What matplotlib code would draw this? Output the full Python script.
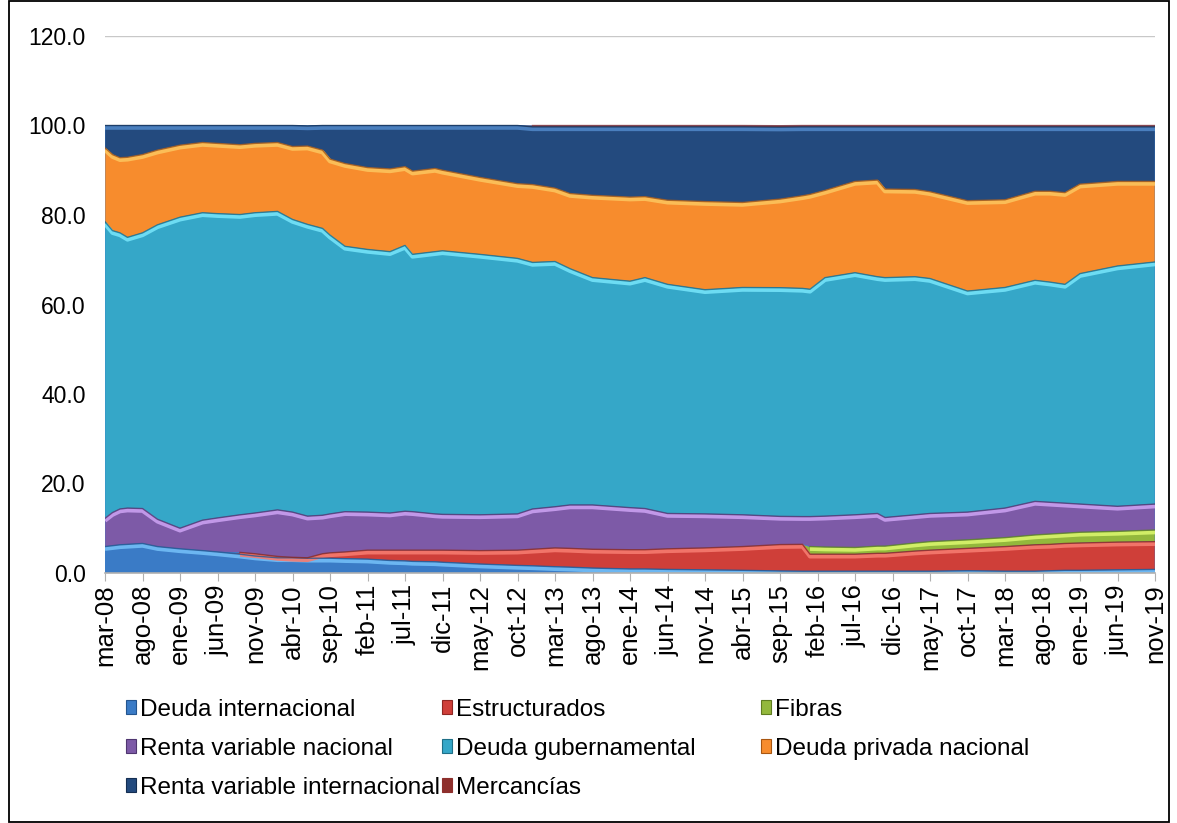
import matplotlib

matplotlib.use("Agg")
import matplotlib.pyplot as plt
import matplotlib.transforms as mtransforms
from matplotlib.patches import Patch, Rectangle
import numpy as np

plt.rcParams["font.family"] = ["Liberation Sans", "DejaVu Sans"]

sample_month = [0, 1, 2, 3, 5, 7, 10, 13, 15, 18,
                20, 23, 25, 27, 29, 30, 32, 35, 38, 40,
                41, 44, 45, 50, 55, 57, 60, 62, 65, 70,
                72, 75, 80, 85, 90, 93, 94, 96, 100, 103,
                104, 108, 110, 115, 120, 124, 126, 128, 130, 135,
                140]

deuda_internacional = [5.9, 6.1, 6.3, 6.4, 6.6, 5.9, 5.4, 5.0, 4.7, 4.2,
                       3.8, 3.4, 3.4, 3.3, 3.3, 3.3, 3.2, 3.1, 2.8, 2.7,
                       2.6, 2.5, 2.4, 2.0, 1.7, 1.6, 1.4, 1.3, 1.1, 0.9,
                       0.9, 0.8, 0.7, 0.6, 0.45, 0.4, 0.4, 0.4, 0.4, 0.4,
                       0.4, 0.4, 0.4, 0.5, 0.4, 0.4, 0.5, 0.6, 0.6, 0.7,
                       0.8]
estructurados = [0, 0, 0, 0, 0, 0, 0, 0, 0, 0.4,
                 0.5, 0.3, 0.1, 0.1, 1.0, 1.2, 1.5, 2.0, 2.3, 2.4,
                 2.5, 2.6, 2.7, 3.0, 3.4, 3.7, 4.2, 4.2, 4.2, 4.3,
                 4.3, 4.6, 4.9, 5.3, 5.9, 6.0, 3.8, 3.8, 3.8, 4.0,
                 4.0, 4.5, 4.7, 5.0, 5.5, 5.9, 5.9, 6.0, 6.1, 6.2,
                 6.2]
fibras = [0, 0, 0, 0, 0, 0, 0, 0, 0, 0,
          0, 0, 0, 0, 0, 0, 0, 0, 0, 0,
          0, 0, 0, 0, 0, 0, 0, 0, 0, 0,
          0, 0, 0, 0, 0, 0, 1.7, 1.6, 1.5, 1.6,
          1.6, 1.8, 1.9, 1.9, 2.0, 2.2, 2.3, 2.3, 2.4, 2.4,
          2.6]
renta_var_nacional = [6.3, 7.4, 8.0, 8.1, 7.8, 6.1, 4.6, 6.8, 7.6, 8.4,
                      9.1, 10.4, 10.1, 9.3, 8.6, 8.7, 9.0, 8.5, 8.3, 8.7,
                      8.6, 8.1, 8.0, 8.0, 8.1, 9.0, 9.2, 9.7, 9.9, 9.4,
                      9.2, 7.9, 7.6, 7.1, 6.3, 6.2, 6.7, 6.9, 7.3, 7.3,
                      6.4, 6.3, 6.3, 6.2, 6.6, 7.5, 7.1, 6.7, 6.3, 5.6,
                      5.8]
deuda_gubernamental = [66.3, 63.0, 61.7, 60.5, 61.6, 65.8, 69.5, 68.7, 68.0, 67.1,
                       67.1, 66.7, 65.4, 65.2, 64.1, 62.3, 59.3, 58.7, 58.4, 59.4,
                       57.5, 58.6, 58.9, 58.2, 57.1, 55.1, 54.8, 52.8, 50.8, 50.6,
                       51.6, 51.2, 50.1, 50.8, 51.1, 51.0, 50.8, 53.3, 54.1, 52.9,
                       53.6, 53.2, 52.5, 49.4, 49.3, 49.4, 49.2, 48.9, 51.5, 53.7,
                       54.1]
deuda_privada = [16.5, 17.0, 16.8, 17.9, 17.5, 16.7, 16.1, 15.7, 15.7, 15.6,
                 15.5, 15.4, 16.3, 17.5, 17.5, 17.0, 18.5, 18.3, 18.5, 17.6,
                 18.6, 18.6, 18.0, 17.2, 16.7, 17.4, 16.4, 16.8, 18.4, 18.8,
                 18.1, 18.8, 19.7, 19.0, 19.8, 20.7, 21.2, 19.5, 20.4, 21.6,
                 19.8, 19.5, 19.4, 20.2, 19.6, 19.9, 20.3, 20.5, 20.0, 18.9,
                 18.0]
renta_var_internacional = [5.0, 6.5, 7.2, 7.1, 6.5, 5.5, 4.4, 3.8, 4.0, 4.3,
                           4.0, 3.8, 4.7, 4.5, 5.5, 7.5, 8.5, 9.4, 9.7, 9.2,
                           10.2, 9.6, 10.0, 11.6, 13.0, 12.9, 13.7, 14.9, 15.3, 15.7,
                           15.6, 16.4, 16.7, 16.9, 16.1, 15.4, 15.1, 14.2, 12.2, 11.9,
                           13.9, 14.0, 14.5, 16.5, 16.3, 14.4, 14.4, 14.7, 12.8, 12.2,
                           12.2]
mercancias = [0, 0, 0, 0, 0, 0, 0, 0, 0, 0,
              0, 0, 0, 0, 0, 0, 0, 0, 0, 0,
              0, 0, 0, 0, 0, 0.3, 0.3, 0.3, 0.3, 0.3,
              0.3, 0.3, 0.3, 0.3, 0.3, 0.3, 0.3, 0.3, 0.3, 0.3,
              0.3, 0.3, 0.3, 0.3, 0.3, 0.3, 0.3, 0.3, 0.3, 0.3,
              0.3]

tick_labels = ["mar-08", "ago-08", "ene-09", "jun-09", "nov-09", "abr-10", "sep-10",
               "feb-11", "jul-11", "dic-11", "may-12", "oct-12", "mar-13", "ago-13",
               "ene-14", "jun-14", "nov-14", "abr-15", "sep-15", "feb-16", "jul-16",
               "dic-16", "may-17", "oct-17", "mar-18", "ago-18", "ene-19", "jun-19",
               "nov-19"]

names = ["Deuda internacional", "Estructurados", "Fibras", "Renta variable nacional",
         "Deuda gubernamental", "Deuda privada nacional", "Renta variable internacional",
         "Mercancías"]
series = [deuda_internacional, estructurados, fibras, renta_var_nacional,
          deuda_gubernamental, deuda_privada, renta_var_internacional, mercancias]
face = ["#3a7bc6", "#cf3f39", "#93b83c", "#7d5aa7", "#35a7c8", "#f78c2d", "#234a7e", "#8e2f2c"]
light = ["#72bdf6", "#f57a6f", "#d8f56c", "#c9a0f0", "#74e2f8", "#fcc35c", "#4f86c6", "#a8403d"]
edge = ["#24558f", "#8f2622", "#5f7d20", "#4f3670", "#1f6f87", "#a85610", "#142e52", "#8e2f2c"]

x = np.array(sample_month, dtype=float)
vals = np.array(series, dtype=float)
tops = np.cumsum(vals, axis=0)

fig = plt.figure(figsize=(11.77, 8.23), dpi=100)
ax = fig.add_axes([105 / 1177, 1 - 573 / 823, 1050 / 1177, 537 / 823])

ax.stackplot(x, *vals, colors=face, linewidth=0.4, edgecolors=face, zorder=2)

# bevel look: dark seam on each boundary and a light band just below it
down = mtransforms.offset_copy(ax.transData, fig=fig, x=0, y=-2.2, units="dots")
for k in range(len(series) - 1):
    top = np.where(vals[k] > 0, tops[k], np.nan)
    ax.plot(x, top, color=light[k], lw=3.0, transform=down, zorder=3,
            solid_capstyle="butt", alpha=0.9)
    ax.plot(x, top, color=edge[k], lw=1.0, zorder=4, alpha=0.8)
merc_top = np.where(vals[-1] > 0, tops[-1], np.nan)
ax.plot(x, merc_top, color=face[-1], lw=1.0, zorder=4, alpha=0.7)

ax.set_xlim(0, 140)
ax.set_ylim(0, 120)
ax.set_yticks(np.arange(0, 121, 20))
ax.yaxis.set_major_formatter(matplotlib.ticker.FormatStrFormatter("%.1f"))
ax.set_xticks(np.arange(0, 141, 5))
ax.set_xticklabels(tick_labels, rotation=90)
ax.tick_params(axis="y", length=0, pad=14, labelsize=16.5)
ax.tick_params(axis="x", length=6, color="#b0b0b0", pad=2, labelsize=18.5, direction="out")
ax.grid(axis="y", color="#c8c8c8", lw=1.0, zorder=0)
ax.set_axisbelow(True)
for side in ["top", "right", "left"]:
    ax.spines[side].set_visible(False)
ax.spines["bottom"].set_color("#b0b0b0")
ax.spines["bottom"].set_linewidth(1.2)
ax.spines["bottom"].set_zorder(5)

# legend laid out row by row in three evenly spaced columns
handles = [Patch(facecolor=face[k], edgecolor=edge[k], lw=0.8) for k in range(len(names))]
col_x = [126 / 1177, 442 / 1177, 761 / 1177]
for c in range(3):
    idx = list(range(c, len(names), 3))
    fig.legend([handles[i] for i in idx], [names[i] for i in idx],
               loc="upper left", bbox_to_anchor=(col_x[c], 1 - 699 / 823),
               frameon=False, fontsize=17.5, handlelength=0.42, handleheight=0.5,
               handletextpad=0.15, labelspacing=0.7, borderpad=0, borderaxespad=0)

fig.patches.append(Rectangle((9 / 1177, 1 / 823), 1160 / 1177, 821 / 823,
                             transform=fig.transFigure, fill=False,
                             edgecolor="black", lw=1.3))

fig.savefig("out.png", dpi=100)
